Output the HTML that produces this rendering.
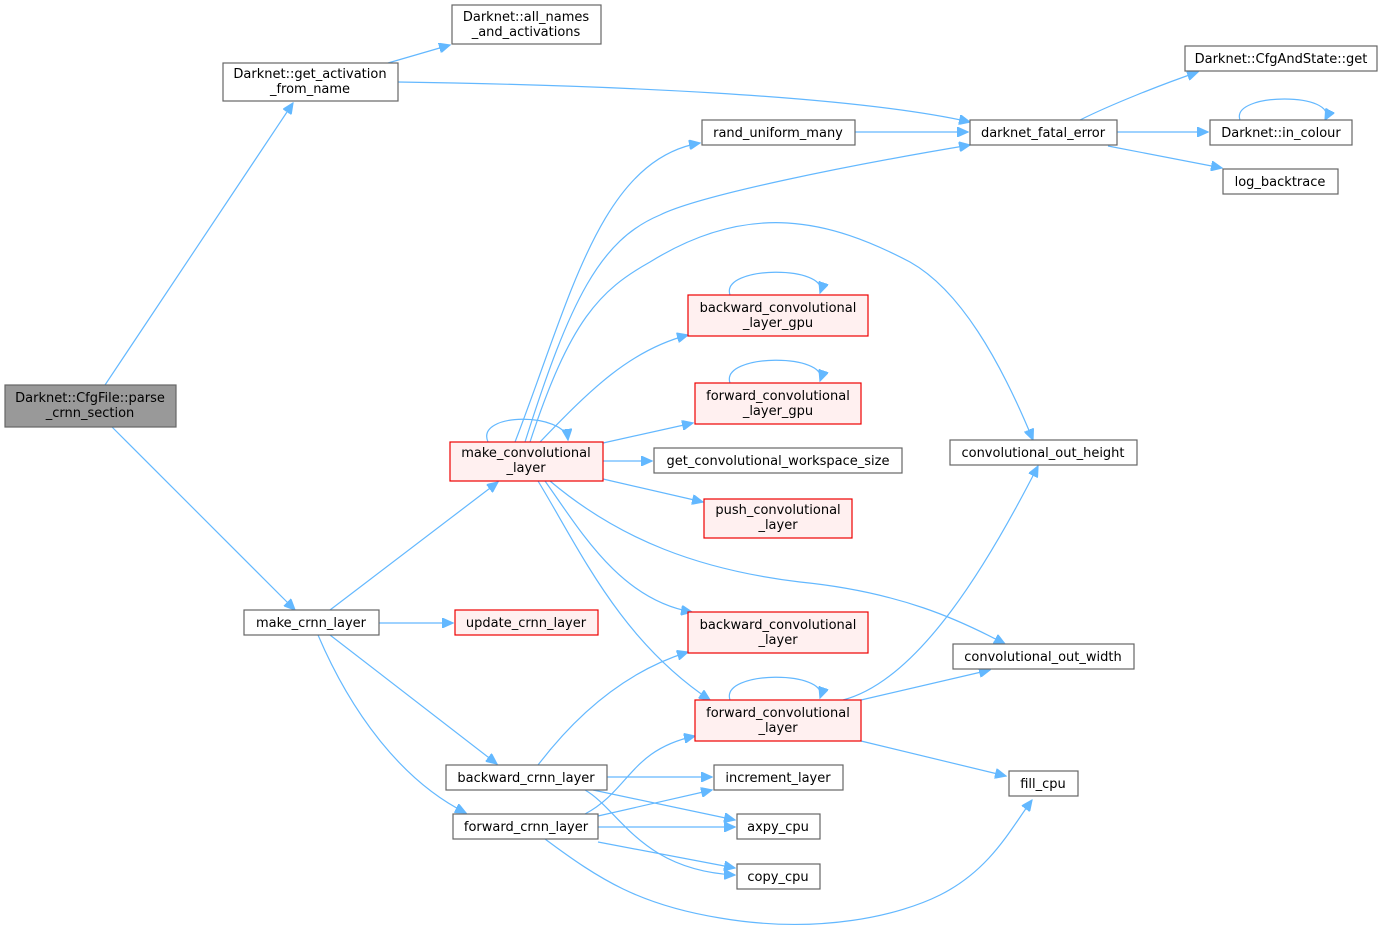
<!DOCTYPE html>
<html><head><meta charset="utf-8"><style>
html,body{margin:0;padding:0;background:#fff;}
svg{display:block;}
text{font-family:"DejaVu Sans","Liberation Sans",sans-serif;font-size:13px;fill:#000;text-anchor:middle;}
.n{fill:#fff;stroke:#666;stroke-width:1.2;}
.r{fill:#fff0f0;stroke:#e00;stroke-width:1.2;}
.g{fill:#999;stroke:#666;stroke-width:1.2;}
path{fill:none;stroke:#63b8ff;stroke-width:1.2;}
</style></head><body>
<svg width="1383" height="934" viewBox="0 0 1383 934">
<defs><marker id="a" markerUnits="userSpaceOnUse" markerWidth="12" markerHeight="10" refX="11" refY="5" orient="auto"><path d="M0,0L11,5L0,10z" style="fill:#63b8ff;stroke:#63b8ff"/></marker></defs>
<g marker-end="url(#a)">
<path d="M105,385L293,103"/>
<path d="M112,427L295,610"/>
<path d="M388,63L450,45"/>
<path d="M398,82C600,85 850,95 970,122"/>
<path d="M1080,120C1110,105 1160,85 1198,72"/>
<path d="M1117,132L1208,132"/>
<path d="M1108,146L1222,168"/>
<path d="M1240,120C1230,92 1340,92 1325,120"/>
<path d="M855,132L968,132"/>
<path d="M330,610L498,482"/>
<path d="M379,623L453,623"/>
<path d="M330,635L497,764"/>
<path d="M318,635C350,710 400,780 466,813"/>
<path d="M515,442C570,300 600,160 700,143"/>
<path d="M525,442C570,300 600,240 660,215C700,195 850,165 970,145"/>
<path d="M530,442C570,320 600,290 650,262C750,200 830,220 910,262C960,290 1000,360 1033,440"/>
<path d="M540,442C590,390 630,350 688,335"/>
<path d="M603,443L693,423"/>
<path d="M603,461L652,461"/>
<path d="M603,479L703,502"/>
<path d="M545,481C580,530 620,600 692,612"/>
<path d="M550,481C620,540 700,570 800,582C900,592 960,620 1005,644"/>
<path d="M538,481C580,550 620,640 710,700"/>
<path d="M488,442C475,412 565,412 568,440"/>
<path d="M730,295C720,265 830,265 820,293"/>
<path d="M730,383C720,353 830,353 820,381"/>
<path d="M730,700C720,670 830,670 820,698"/>
<path d="M843,700C920,680 990,560 1038,466"/>
<path d="M861,700L990,670"/>
<path d="M861,741L1006,776"/>
<path d="M538,765C580,710 630,670 688,652"/>
<path d="M607,777L712,777"/>
<path d="M593,790L735,820"/>
<path d="M585,790C620,810 640,870 735,875"/>
<path d="M585,814C630,790 630,750 695,736"/>
<path d="M598,816L712,790"/>
<path d="M598,827L735,827"/>
<path d="M598,842L735,868"/>
<path d="M545,839C600,880 640,905 720,918C820,935 900,915 940,895C990,870 1010,830 1032,800"/>
</g>
<rect class="g" x="5" y="385" width="171" height="42"/><text x="90" y="402">Darknet::CfgFile::parse</text><text x="90" y="417">_crnn_section</text>
<rect class="n" x="223" y="63" width="175" height="38"/><text x="310" y="78">Darknet::get_activation</text><text x="310" y="93">_from_name</text>
<rect class="n" x="452" y="5" width="149" height="39"/><text x="526" y="21">Darknet::all_names</text><text x="526" y="36">_and_activations</text>
<rect class="n" x="970" y="120" width="147" height="25"/><text x="1043" y="137">darknet_fatal_error</text>
<rect class="n" x="1185" y="46" width="192" height="25"/><text x="1281" y="63">Darknet::CfgAndState::get</text>
<rect class="n" x="1210" y="120" width="142" height="25"/><text x="1281" y="137">Darknet::in_colour</text>
<rect class="n" x="1223" y="169" width="115" height="25"/><text x="1280" y="186">log_backtrace</text>
<rect class="n" x="702" y="120" width="153" height="25"/><text x="778" y="137">rand_uniform_many</text>
<rect class="r" x="688" y="295" width="180" height="41"/><text x="778" y="312">backward_convolutional</text><text x="778" y="327">_layer_gpu</text>
<rect class="r" x="695" y="383" width="166" height="41"/><text x="778" y="400">forward_convolutional</text><text x="778" y="415">_layer_gpu</text>
<rect class="r" x="450" y="442" width="153" height="39"/><text x="526" y="457">make_convolutional</text><text x="526" y="472">_layer</text>
<rect class="n" x="654" y="448" width="248" height="25"/><text x="778" y="465">get_convolutional_workspace_size</text>
<rect class="n" x="950" y="440" width="187" height="25"/><text x="1043" y="457">convolutional_out_height</text>
<rect class="r" x="704" y="499" width="148" height="39"/><text x="778" y="514">push_convolutional</text><text x="778" y="529">_layer</text>
<rect class="n" x="244" y="610" width="135" height="25"/><text x="311" y="627">make_crnn_layer</text>
<rect class="r" x="455" y="610" width="143" height="25"/><text x="526" y="627">update_crnn_layer</text>
<rect class="r" x="688" y="612" width="180" height="41"/><text x="778" y="629">backward_convolutional</text><text x="778" y="644">_layer</text>
<rect class="n" x="953" y="644" width="181" height="25"/><text x="1043" y="661">convolutional_out_width</text>
<rect class="r" x="695" y="700" width="166" height="41"/><text x="778" y="717">forward_convolutional</text><text x="778" y="732">_layer</text>
<rect class="n" x="446" y="765" width="161" height="25"/><text x="526" y="782">backward_crnn_layer</text>
<rect class="n" x="714" y="765" width="129" height="25"/><text x="778" y="782">increment_layer</text>
<rect class="n" x="1009" y="771" width="69" height="25"/><text x="1043" y="788">fill_cpu</text>
<rect class="n" x="453" y="814" width="145" height="25"/><text x="526" y="831">forward_crnn_layer</text>
<rect class="n" x="737" y="814" width="83" height="25"/><text x="778" y="831">axpy_cpu</text>
<rect class="n" x="737" y="864" width="83" height="25"/><text x="778" y="881">copy_cpu</text>
</svg>
</body></html>
